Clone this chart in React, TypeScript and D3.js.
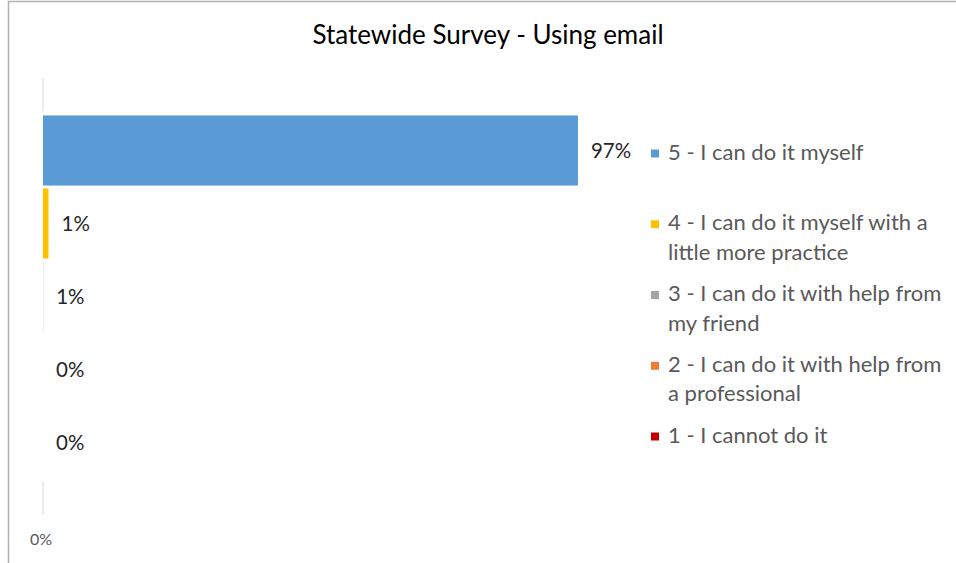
import React from "react";
import * as d3 from "d3";

const title = "Statewide Survey - Using email";
const categories = ["Using email"];
const seriesNames = [
  "5 - I can do it myself",
  "4 - I can do it myself with a little more practice",
  "3 - I can do it with help from my friend",
  "2 - I can do it with help from a professional",
  "1 - I cannot do it",
];
const seriesColors = ["#5b9bd5", "#ffc000", "#a5a5a5", "#ed7d31", "#c00000"];
const seriesValues = [0.97, 0.01, 0.0004, 0, 0];
const dataLabels = ["97%", "1%", "1%", "0%", "0%"];
const xTicks = [0];

const W = 956;
const H = 563;
const FONT = "Lato, 'Open Sans', sans-serif";

function wrap(text: string, maxChars: number): string[] {
  const words = text.split(" ");
  const lines: string[] = [];
  let cur = "";
  for (const w of words) {
    const next = cur ? cur + " " + w : w;
    if (next.length > maxChars && cur) {
      lines.push(cur);
      cur = w;
    } else cur = next;
  }
  if (cur) lines.push(cur);
  return lines;
}

export default function App() {
  const x = d3.scaleLinear().domain([0, 1]).range([43, 594.5]);
  const yCat = d3.scaleBand<string>().domain(categories).range([78, 515]).padding(0);
  const catTop = yCat(categories[0])!;
  const catBottom = catTop + yCat.bandwidth();
  const ySer = d3
    .scaleBand<string>()
    .domain(seriesNames)
    .range([catTop + 36, catBottom - 36])
    .paddingInner(0.04)
    .paddingOuter(0.02);
  const firstBarTop = ySer(seriesNames[0])!;
  const lastBarBottom = ySer(seriesNames[seriesNames.length - 1])! + ySer.bandwidth();

  const legendY = d3.scalePoint<string>().domain(seriesNames).range([152, 435]);
  const lineH = 29.5;

  return (
    <svg
      width={W}
      height={H}
      style={{ position: "absolute", left: 0, top: 0, background: "#fff" }}
      fontFamily={FONT}
    >
      <rect x={8.5} y={1.5} width={W + 10} height={H + 10} fill="#fff" stroke="#b0b0b0" strokeWidth={1.5} />
      <text x={488} y={37} textAnchor="middle" dominantBaseline="middle" fontSize={26} fill="#000">
        {title}
      </text>
      {/* axis line segments (visible parts) */}
      <line x1={x(0)} x2={x(0)} y1={catTop} y2={firstBarTop - 4} stroke="#d9d9d9" strokeWidth={1} />
      <line x1={x(0)} x2={x(0)} y1={lastBarBottom + 4} y2={catBottom} stroke="#d9d9d9" strokeWidth={1} />
      {xTicks.map((t) => (
        <text key={t} x={x(t) - 2} y={541} textAnchor="middle" dominantBaseline="middle" fontSize={16} fill="#595959">
          {d3.format(".0%")(t)}
        </text>
      ))}
      {seriesNames.map((s, i) => (
        <g key={s}>
          <rect
            x={x(0)}
            y={ySer(s)!}
            width={Math.max(0, x(seriesValues[i]) - x(0))}
            height={ySer.bandwidth()}
            fill={seriesColors[i]}
          />
          <text
            x={x(seriesValues[i]) + 13}
            y={ySer(s)! + ySer.bandwidth() / 2 + 2}
            dominantBaseline="middle"
            fontSize={20.5}
            fill="#262626"
          >
            {dataLabels[i]}
          </text>
        </g>
      ))}
      {seriesNames.map((s, i) => {
        const lines = wrap(s, 30);
        const y0 = legendY(s)!;
        return (
          <g key={"leg" + s}>
            <rect x={651} y={y0 - 2.5} width={8} height={8} fill={seriesColors[i]} />
            {lines.map((ln, j) => (
              <text key={j} x={668} y={y0 + 2 + j * lineH} dominantBaseline="middle" fontSize={22} fill="#595959">
                {ln}
              </text>
            ))}
          </g>
        );
      })}
    </svg>
  );
}
